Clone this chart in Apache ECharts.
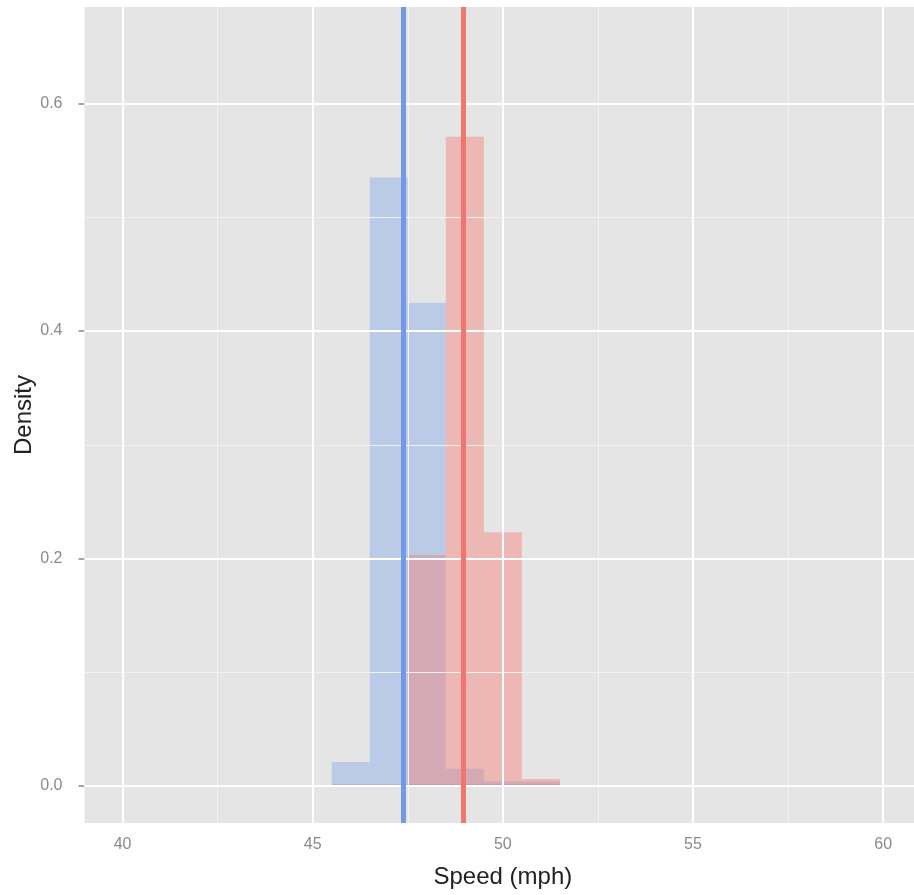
<!DOCTYPE html>
<html><head><meta charset="utf-8">
<script src="https://cdn.jsdelivr.net/npm/echarts@6/dist/echarts.min.js"></script>
<style>html,body{margin:0;padding:0;background:#fff;overflow:hidden}#c{width:914px;height:895px}</style>
</head><body><div id="c"></div>
<script>
// Histogram bins (density), binwidth 1 mph
const binStarts = [45.5, 46.5, 47.5, 48.5, 49.5, 50.5];
const binWidth = 1;
const blueDensity = [0.021, 0.535, 0.425, 0.015, 0.004, 0.004];
const redDensity = [0, 0, 0.203, 0.571, 0.223, 0.006];
// Mean lines
const blueMean = 47.39;
const redMean = 48.95;
// Axis ticks
const xTicks = [40, 45, 50, 55, 60];
const xMinor = [42.5, 47.5, 52.5, 57.5];
const yTicks = [0, 0.2, 0.4, 0.6];
const yMinor = [0.1, 0.3, 0.5];
const xTitle = 'Speed (mph)';
const yTitle = 'Density';

const FONT = 'Liberation Sans, Arial, sans-serif';

function hist(values, color, z) {
  return {
    type: 'custom', z: z, silent: true, clip: true, animation: false,
    data: binStarts.map((s, i) => [s, s + binWidth, values[i]]),
    encode: { x: [0, 1], y: 2 },
    renderItem: function (params, api) {
      const p0 = api.coord([api.value(0), api.value(2)]);
      const p1 = api.coord([api.value(1), 0]);
      return {
        type: 'group',
        children: [
          { type: 'rect', shape: { x: p0[0], y: p0[1], width: p1[0] - p0[0], height: p1[1] - p0[1] }, style: { fill: color } },
          { type: 'line', shape: { x1: p0[0], y1: p1[1] - 0.5, x2: p1[0], y2: p1[1] - 0.5 }, style: { stroke: 'rgba(110,110,110,0.35)', lineWidth: 1.5 } }
        ]
      };
    }
  };
}
const ml = (arr, key, w, c) => arr.map(v => ({ [key]: v, lineStyle: { width: w, color: c, type: 'solid' } }));

const chart = echarts.init(document.getElementById('c'), null, { renderer: 'canvas' });
chart.setOption({
  animation: false,
  backgroundColor: '#ffffff',
  grid: { left: 84.5, top: 7, width: 836.7, height: 816, show: true, backgroundColor: '#E5E5E5', borderWidth: 0, containLabel: false, outerBoundsMode: 'none' },
  xAxis: {
    type: 'value', min: 39, max: 61,
    name: xTitle, nameLocation: 'middle', nameGap: 42, nameMoveOverlap: false,
    nameTextStyle: { fontFamily: FONT, fontSize: 24, color: '#222' },
    axisLine: { show: false },
    axisTick: { show: true, customValues: xTicks, length: 6, lineStyle: { color: '#888', width: 1.5 } },
    axisLabel: { customValues: xTicks, margin: 14, color: '#8a8a8a', fontSize: 16, fontFamily: FONT, formatter: v => String(v) },
    splitLine: { show: false }
  },
  yAxis: {
    type: 'value', min: -0.0326, max: 0.685,
    name: yTitle, nameLocation: 'middle', nameGap: 48, nameRotate: 90, nameMoveOverlap: false,
    nameTextStyle: { fontFamily: FONT, fontSize: 24, color: '#222' },
    axisLine: { show: false },
    axisTick: { show: true, customValues: yTicks, length: 6, lineStyle: { color: '#888', width: 1.5 } },
    axisLabel: { customValues: yTicks, margin: 22, color: '#8a8a8a', fontSize: 16, fontFamily: FONT, formatter: v => v.toFixed(1) },
    splitLine: { show: false }
  },
  series: [
    {
      type: 'line', data: [], z: 1, silent: true,
      markLine: {
        silent: true, symbol: ['none', 'none'], label: { show: false }, animation: false,
        data: [].concat(
          ml(xMinor, 'xAxis', 1, '#F2F2F2'), ml(yMinor, 'yAxis', 1, '#F2F2F2'),
          ml(xTicks, 'xAxis', 2, '#FFFFFF'), ml(yTicks, 'yAxis', 2, '#FFFFFF'))
      }
    },
    hist(blueDensity, 'rgba(100,149,237,0.32)', 2),
    hist(redDensity, 'rgba(248,118,109,0.42)', 3),
    {
      type: 'line', data: [], z: 4, silent: true,
      markLine: {
        silent: true, symbol: ['none', 'none'], label: { show: false }, animation: false,
        data: [
          { xAxis: blueMean, lineStyle: { width: 5, color: '#7399E6', type: 'solid' } },
          { xAxis: redMean, lineStyle: { width: 5, color: '#F0766E', type: 'solid' } }
        ]
      }
    }
  ]
});
</script></body></html>
